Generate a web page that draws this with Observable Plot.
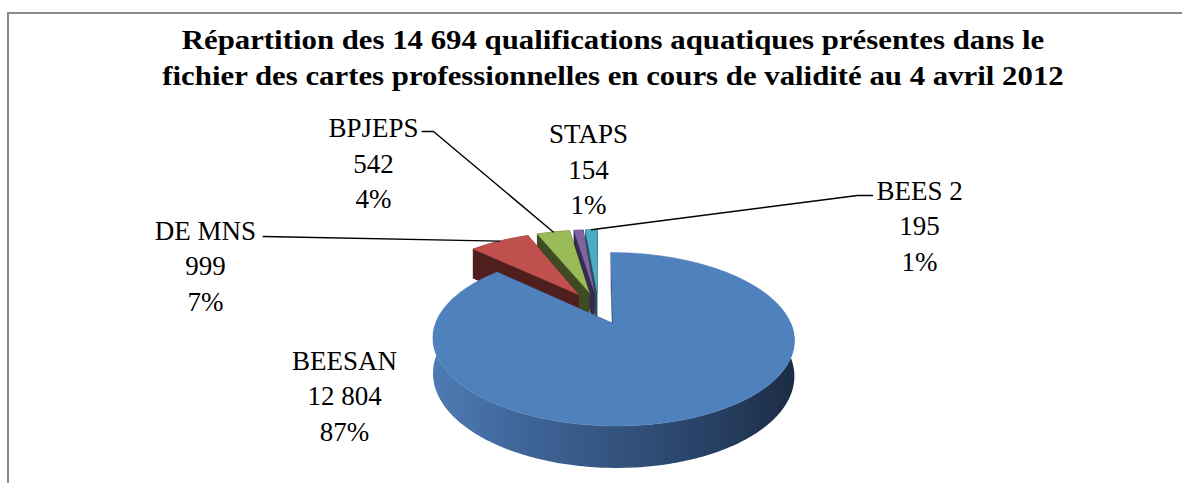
<!DOCTYPE html>
<html><head><meta charset="utf-8">
<script src="https://cdn.jsdelivr.net/npm/d3@7"></script>
<script src="https://cdn.jsdelivr.net/npm/@observablehq/plot@0.6"></script>
<style>
html,body{margin:0;padding:0;background:#fff;}
#wrap{position:relative;width:1182px;height:483px;overflow:hidden;background:#fff;}
#chart{position:absolute;left:0;top:0;}
#frame{position:absolute;left:7px;top:12px;width:1300px;height:600px;border-top:2px solid #8a8a8a;border-left:2px solid #8a8a8a;pointer-events:none;}
#title{position:absolute;left:0;top:22px;width:1226px;text-align:center;font-family:"Liberation Serif","DejaVu Serif",serif;font-weight:bold;font-size:28px;line-height:36px;color:#000;transform:scaleX(1.1);transform-origin:613px 0;}
</style></head>
<body><div id="wrap"><div id="chart"></div><div id="frame"></div><div id="title">Répartition des 14 694 qualifications aquatiques présentes dans le<br>fichier des cartes professionnelles en cours de validité au 4 avril 2012</div></div>
<script>
// ---- data ----
const categories = ["BEESAN", "DE MNS", "BPJEPS", "STAPS", "BEES 2"];
const counts = [12804, 999, 542, 154, 195];
const countLabels = ["12 804", "999", "542", "154", "195"];
const percentLabels = ["87%", "7%", "4%", "1%", "1%"];
// ---- styles / layout ----
const topColors = ["#4f81bd", "#c0504d", "#9bbb59", "#8064a2", "#4bacc6"];
const wallColors = ["#2e4a73", "#4f1f1e", "#3e4b23", "#362a4c", "#22505d"];
const labelX = [-1.479, -2.289, -1.310, -0.058, 1.870];
const labelY = [1.098, -0.562, -1.874, -1.797, -1.073];
const leaderX = [[], [-1.953], [-1.027, -0.961], [], [1.596, 1.508]];
const leaderY = [[], [-0.912], [-2.253, -2.253], [], [-1.436, -1.436]];

const W = 1182, H = 483;
const X0 = 598, A = 171.7, Y0 = 307.4, B = 78.3;
const K = 0.175, DEPTH = 0.424, EXPLODE = 0.21;

const arcs = d3.pie().sort(null).value(d => d)(counts);
const proj = (u, v, d) => { const z = 1 - K * v; return [u / z, (v + d * DEPTH) / z]; };

const smallPolys = [], sidePolys = [], mainPolys = [];
let pid = 0;
function addPoly(list, pts, color) { const id = pid++; pts.forEach(p => list.push({id, x: p[0], y: p[1], color})); }

function slice(i) {
  const a = arcs[i];
  const mid = (a.startAngle + a.endAngle) / 2;
  const cu = EXPLODE * Math.sin(mid), cv = -EXPLODE * Math.cos(mid);
  const n = Math.max(2, Math.ceil((a.endAngle - a.startAngle) / (Math.PI / 180)));
  const angs = d3.range(n + 1).map(k => a.startAngle + (a.endAngle - a.startAngle) * k / n);
  const P = (ang, d) => proj(cu + Math.sin(ang), cv - Math.cos(ang), d);
  const C = d => proj(cu, cv, d);
  return {a, mid, angs, P, C};
}

function drawSmall(i) {
  const s = slice(i);
  const dark = wallColors[i];
  addPoly(smallPolys, [s.C(1), ...s.angs.map(g => s.P(g, 1))], dark);
  [s.a.startAngle, s.a.endAngle].forEach(g => addPoly(smallPolys, [s.C(0), s.P(g, 0), s.P(g, 1), s.C(1)], dark));
  addPoly(smallPolys, [...s.angs.map(g => s.P(g, 0)), ...s.angs.slice().reverse().map(g => s.P(g, 1))], dark);
  addPoly(smallPolys, [s.C(0), ...s.angs.map(g => s.P(g, 0))], topColors[i]);
}

function drawMain(i) {
  const s = slice(i);
  // outer wall: only the front-facing half (90° to 270°), shaded by a gradient
  const front = s.angs.filter(g => g >= Math.PI / 2 - 0.02 && g <= 3 * Math.PI / 2 + 0.12);
  addPoly(sidePolys, [...front.map(g => s.P(g, 0)), ...front.slice().reverse().map(g => s.P(g, 1))], "side");
  [s.a.startAngle, s.a.endAngle].forEach(g => addPoly(mainPolys, [s.C(0), s.P(g, 0), s.P(g, 1), s.C(1)], wallColors[i]));
  addPoly(mainPolys, [s.C(0), ...s.angs.map(g => s.P(g, 0))], topColors[i]);
}

[4, 3, 2, 1].forEach(drawSmall);
drawMain(0);

const leaders = [];
categories.forEach((c, i) => {
  if (!leaderX[i].length) return;
  const s = slice(i);
  leaderX[i].forEach((lx, j) => leaders.push({id: c, x: lx, y: leaderY[i][j]}));
  const p = s.P(s.mid, 0);
  leaders.push({id: c, x: p[0], y: p[1]});
});

const labels = categories.map((c, i) => ({x: labelX[i], y: labelY[i], text: `${c}\n${countLabels[i]}\n${percentLabels[i]}`}));

function gradientDefs() {
  const ns = "http://www.w3.org/2000/svg";
  const defs = document.createElementNS(ns, "defs");
  const g = document.createElementNS(ns, "linearGradient");
  g.setAttribute("id", "sideGrad");
  g.setAttribute("x1", "0"); g.setAttribute("x2", "1"); g.setAttribute("y1", "0"); g.setAttribute("y2", "0");
  [[0, "#4d7bb4"], [0.25, "#3f6598"], [0.55, "#31507a"], [0.8, "#263e60"], [1, "#1c2c44"]].forEach(([o, c]) => {
    const st = document.createElementNS(ns, "stop");
    st.setAttribute("offset", o); st.setAttribute("stop-color", c);
    g.appendChild(st);
  });
  defs.appendChild(g);
  return defs;
}

const chart = Plot.plot({
  width: W, height: H, margin: 0,
  x: {domain: [-X0 / A, (W - X0) / A], axis: null},
  y: {domain: [(H - Y0) / B, -Y0 / B], axis: null},
  color: {type: "identity"},
  style: {background: "transparent"},
  marks: [
    gradientDefs,
    Plot.line(smallPolys, {x: "x", y: "y", z: "id", fill: "color", stroke: "color", strokeWidth: 0.5, strokeLinejoin: "round", curve: "linear"}),
    Plot.line(sidePolys, {x: "x", y: "y", z: "id", fill: "url(#sideGrad)", stroke: "none", curve: "linear"}),
    Plot.line(mainPolys, {x: "x", y: "y", z: "id", fill: "color", stroke: "color", strokeWidth: 0.5, strokeLinejoin: "round", curve: "linear"}),
    Plot.line(leaders, {x: "x", y: "y", z: "id", stroke: "black", strokeWidth: 1.4, curve: "linear"}),
    Plot.text(labels, {x: "x", y: "y", text: "text", fontSize: 27, fontFamily: "Liberation Serif", lineHeight: 1.315, textAnchor: "middle", lineAnchor: "middle", fill: "black"})
  ]
});
document.getElementById("chart").appendChild(chart);
</script>
</body></html>
